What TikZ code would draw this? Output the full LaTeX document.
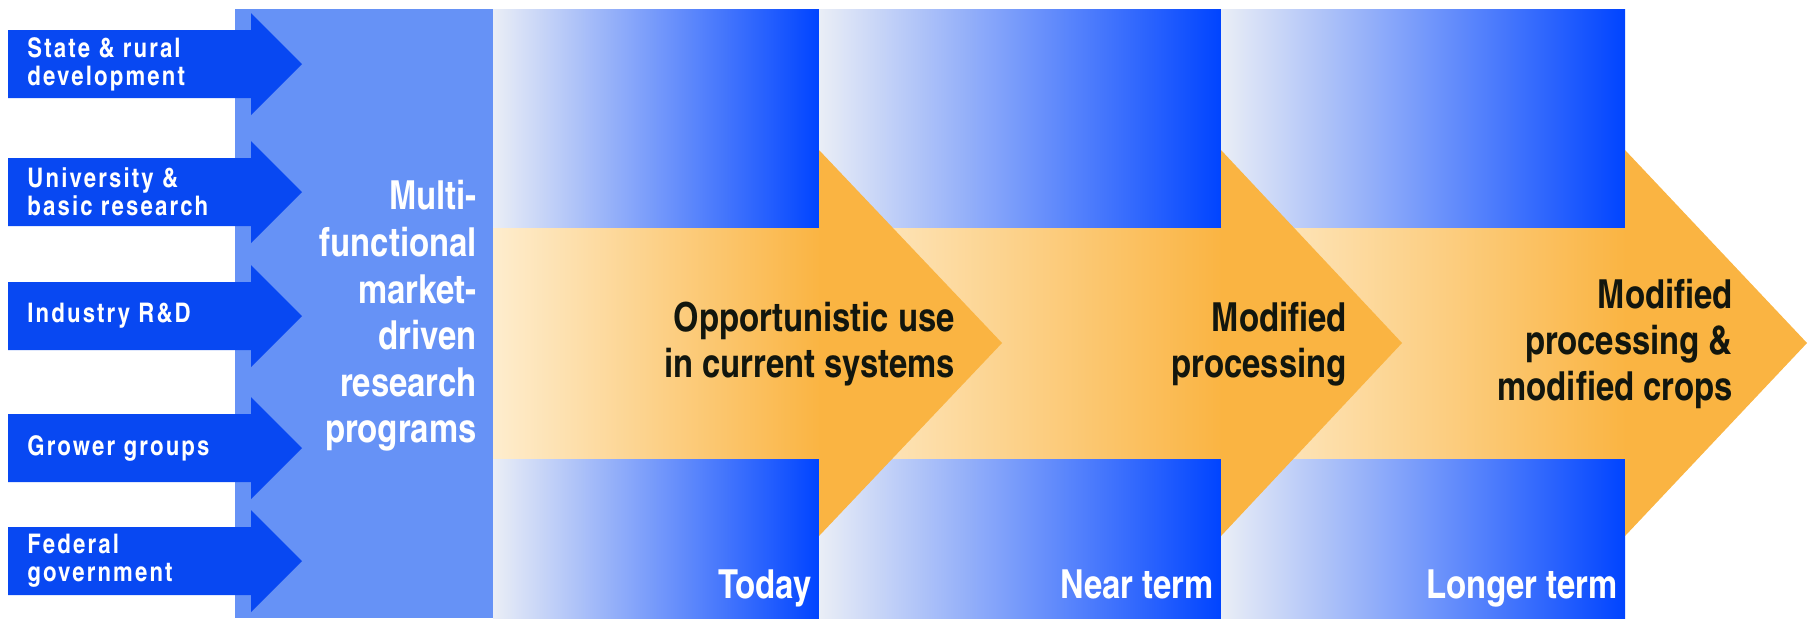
\documentclass[tikz,border=0pt]{standalone}
\usepackage{fontspec}
\newfontfamily\heroscn{texgyreheroscn}[Extension=.otf,UprightFont=*-regular,BoldFont=*-bold]
\newfontfamily\heroscnwide{texgyreheroscn}[Extension=.otf,UprightFont=*-bold,LetterSpace=8]
\usetikzlibrary{positioning}
\definecolor{srcblue}{RGB}{8,72,242}
\definecolor{hubblue}{RGB}{102,146,246}
\definecolor{colpale}{RGB}{234,238,246}
\definecolor{coldeep}{RGB}{0,68,255}
\definecolor{bandpale}{RGB}{254,237,206}
\definecolor{banddeep}{RGB}{250,180,66}
\definecolor{inkdark}{RGB}{18,22,14}

\begin{document}
\begin{tikzpicture}[x=0.5pt, y=-0.5pt,
  srcarrow/.style={fill=srcblue},
  srclabel/.style={anchor=west, align=left, inner sep=0pt, text=white, font=\heroscnwide\fontsize{13.5}{14}\selectfont},
  hub/.style={fill=hubblue},
  hublabel/.style={anchor=east, align=right, inner sep=0pt, text=white, font=\heroscn\bfseries\fontsize{20}{23.3}\selectfont},
  column/.style={left color=colpale, right color=coldeep},
  band/.style={left color=bandpale, right color=banddeep},
  stagelabel/.style={anchor=east, align=right, inner sep=0pt, text=inkdark, font=\heroscn\bfseries\fontsize{20}{23}\selectfont},
  termlabel/.style={anchor=base east, inner sep=0pt, text=white, font=\heroscn\bfseries\fontsize{20}{23}\selectfont}]
\useasboundingbox (0,0) rectangle (1808,618);
\fill[hub] (235,9) rectangle (493,618);
\foreach \name/\cy/\txt in {state/64/{State \& rural\\development}, univ/192/{University \&\\basic research}, industry/316/{Industry R\&D}, grower/448/{Grower groups}, federal/561/{Federal\\government}}{
  \fill[srcarrow] (8,\cy-34) -- (251,\cy-34) -- (251,\cy-51) -- (302,\cy) -- (251,\cy+51) -- (251,\cy+34) -- (8,\cy+34) -- cycle;
  \node[srclabel] (src-\name) at (27,\cy) {\txt};
}
\node[hublabel] (hub) at (477,316) {Multi-\\functional\\market-\\driven\\research\\programs};
\foreach \name/\xa/\xb/\txt in {today/493/819/Today, near/819/1221/Near term, longer/1221/1625/Longer term}{
  \fill[column] (\xa,9) rectangle (\xb,618);
  \node[termlabel] (term-\name) at (\xb-7,598) {\txt};
}
\foreach \xa/\xb/\xt in {1221/1625/1807, 819/1221/1402, 493/819/1002}{
  \fill[band] (\xa,228) rectangle (\xb+2,458);
  \fill[banddeep] (\xb,150) -- (\xt,343) -- (\xb,536) -- cycle;
}
\node[stagelabel] (current) at (955,344) {Opportunistic use\\in current systems};
\node[stagelabel] (processing) at (1347,344) {Modified\\processing};
\node[stagelabel] (crops) at (1733,344) {Modified\\processing \&\\modified crops};
\end{tikzpicture}
\end{document}
